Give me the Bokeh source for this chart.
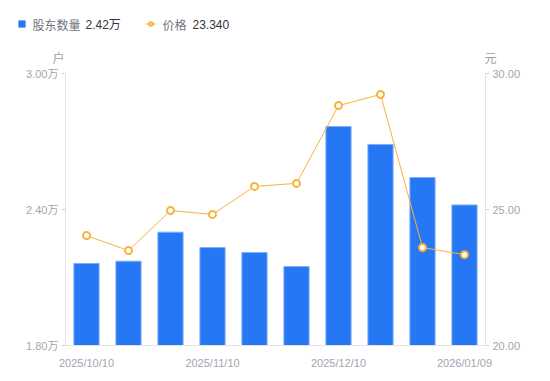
from bokeh.plotting import figure
from bokeh.layouts import column
from bokeh.models import (Range1d, LinearAxis, FixedTicker, PrintfTickFormatter,
                          Label, Legend, LegendItem)
from bokeh.embed import file_html
from bokeh.resources import INLINE

dates = ["2025/10/10", "2025/10/20", "2025/10/31", "2025/11/10", "2025/11/20",
         "2025/11/28", "2025/12/10", "2025/12/19", "2025/12/31", "2026/01/09"]
holders_wan = [2.162, 2.172, 2.300, 2.232, 2.210, 2.148, 2.766, 2.687, 2.541, 2.420]
prices = [24.04, 23.49, 24.96, 24.82, 25.85, 25.96, 28.82, 29.23, 23.60, 23.34]
shown_dates = ["2025/10/10", "2025/11/10", "2025/12/10", "2026/01/09"]
left_ticks = [1.8, 2.4, 3.0]
right_ticks = [20, 25, 30]
legend_names = ["股东数量", "价格"]
legend_values = ["2.42万", "23.340"]
axis_units = ["户", "元"]

FONT = "Liberation Sans, Noto Sans CJK SC"
CJK = "Noto Sans CJK SC"
TICK_COLOR = "#a2a6b2"
BLUE = "#2577f4"
ORANGE = "#f9b23a"

idx = list(range(len(dates)))
NAN = float("nan")

# ---------------- header (legend + axis units) ----------------
h = figure(width=550, height=66, x_range=Range1d(0, 550), y_range=Range1d(66, 0),
           output_backend="svg", toolbar_location=None,
           min_border_left=0, min_border_right=0, min_border_top=0, min_border_bottom=0)
if "frame_align" in h.properties():
    h.frame_align = False
h.axis.visible = False
h.grid.visible = False
h.outline_line_color = None

dummy_bar = h.vbar(x=[NAN], top=[NAN], width=1, fill_color=BLUE, line_color=None)
dummy_line = h.line(x=[NAN], y=[NAN], line_color=ORANGE, line_width=1)
dummy_pt = h.scatter(x=[NAN], y=[NAN], size=6, fill_color="white", line_color=ORANGE,
                     line_width=2)

leg_style = dict(glyph_height=9, label_text_alpha=0, padding=0, margin=0,
                 border_line_alpha=0, background_fill_alpha=0, label_height=9,
                 label_text_font_size="1px", label_standoff=0)
leg1 = Legend(items=[LegendItem(label=legend_names[0], renderers=[dummy_bar])],
              location=(17, 38), glyph_width=9, **leg_style)
leg2 = Legend(items=[LegendItem(label=legend_names[1], renderers=[dummy_line, dummy_pt])],
              location=(145, 38), glyph_width=11, **leg_style)
h.add_layout(leg1)
h.add_layout(leg2)

for x, t, c, f in [(32, legend_names[0], "#6f7380", CJK), (85, legend_values[0], "#33363d", FONT),
                   (162, legend_names[1], "#6f7380", CJK), (192, legend_values[1], "#33363d", FONT)]:
    h.add_layout(Label(x=x, y=24, text=t, text_font=f, text_font_size="12px",
                       text_color=c, text_baseline="middle"))

for x, t in [(58, axis_units[0]), (490, axis_units[1])]:
    h.add_layout(Label(x=x, y=57, text=t, text_font=CJK, text_font_size="12px",
                       text_color="#9a9eaa", text_align="center", text_baseline="middle"))

# ---------------- main chart ----------------
p = figure(x_range=Range1d(-0.5, len(dates) - 0.5), y_range=Range1d(left_ticks[0], left_ticks[-1]),
           width=550, frame_width=420, frame_height=272, output_backend="svg",
           toolbar_location=None, min_border_left=65, min_border_right=65,
           min_border_top=7, min_border_bottom=30)
if "frame_align" in p.properties():
    p.frame_align = False
p.extra_y_ranges = {"price": Range1d(right_ticks[0], right_ticks[-1])}
p.outline_line_color = None
p.grid.visible = False

p.vbar(x=idx, top=holders_wan, bottom=left_ticks[0], width=0.6, fill_color=BLUE,
       line_color="#7eaef8", line_width=1)
p.line(x=idx, y=prices, y_range_name="price", line_color=ORANGE, line_width=1)
p.scatter(x=idx, y=prices, y_range_name="price", size=7, fill_color="white",
          line_color=ORANGE, line_width=2)

def style_y(ax):
    ax.axis_line_color = "#e4e4e8"
    ax.major_tick_line_color = "#d8d8dc"
    ax.major_tick_out = 4
    ax.major_tick_in = 0
    ax.minor_tick_line_color = None
    ax.major_label_standoff = 3
    ax.major_label_text_font = FONT
    ax.major_label_text_font_size = "11px"
    ax.major_label_text_color = TICK_COLOR

ya = p.yaxis[0]
ya.ticker = FixedTicker(ticks=left_ticks)
ya.formatter = PrintfTickFormatter(format="%.2f万")
style_y(ya)

ra = LinearAxis(y_range_name="price", ticker=FixedTicker(ticks=right_ticks),
                formatter=PrintfTickFormatter(format="%.2f"))
style_y(ra)
p.add_layout(ra, "right")

xa = p.xaxis[0]
shown_idx = [dates.index(d) for d in shown_dates]
xa.ticker = FixedTicker(ticks=shown_idx)
xa.major_label_overrides = {i: dates[i] for i in shown_idx}
xa.axis_line_color = "#e4e4e8"
xa.major_tick_line_color = None
xa.minor_tick_line_color = None
xa.major_label_standoff = 5
xa.major_label_text_font = FONT
xa.major_label_text_font_size = "11px"
xa.major_label_text_color = TICK_COLOR

layout = column(h, p, spacing=0)
open("out.html", "w").write(file_html(layout, INLINE))
